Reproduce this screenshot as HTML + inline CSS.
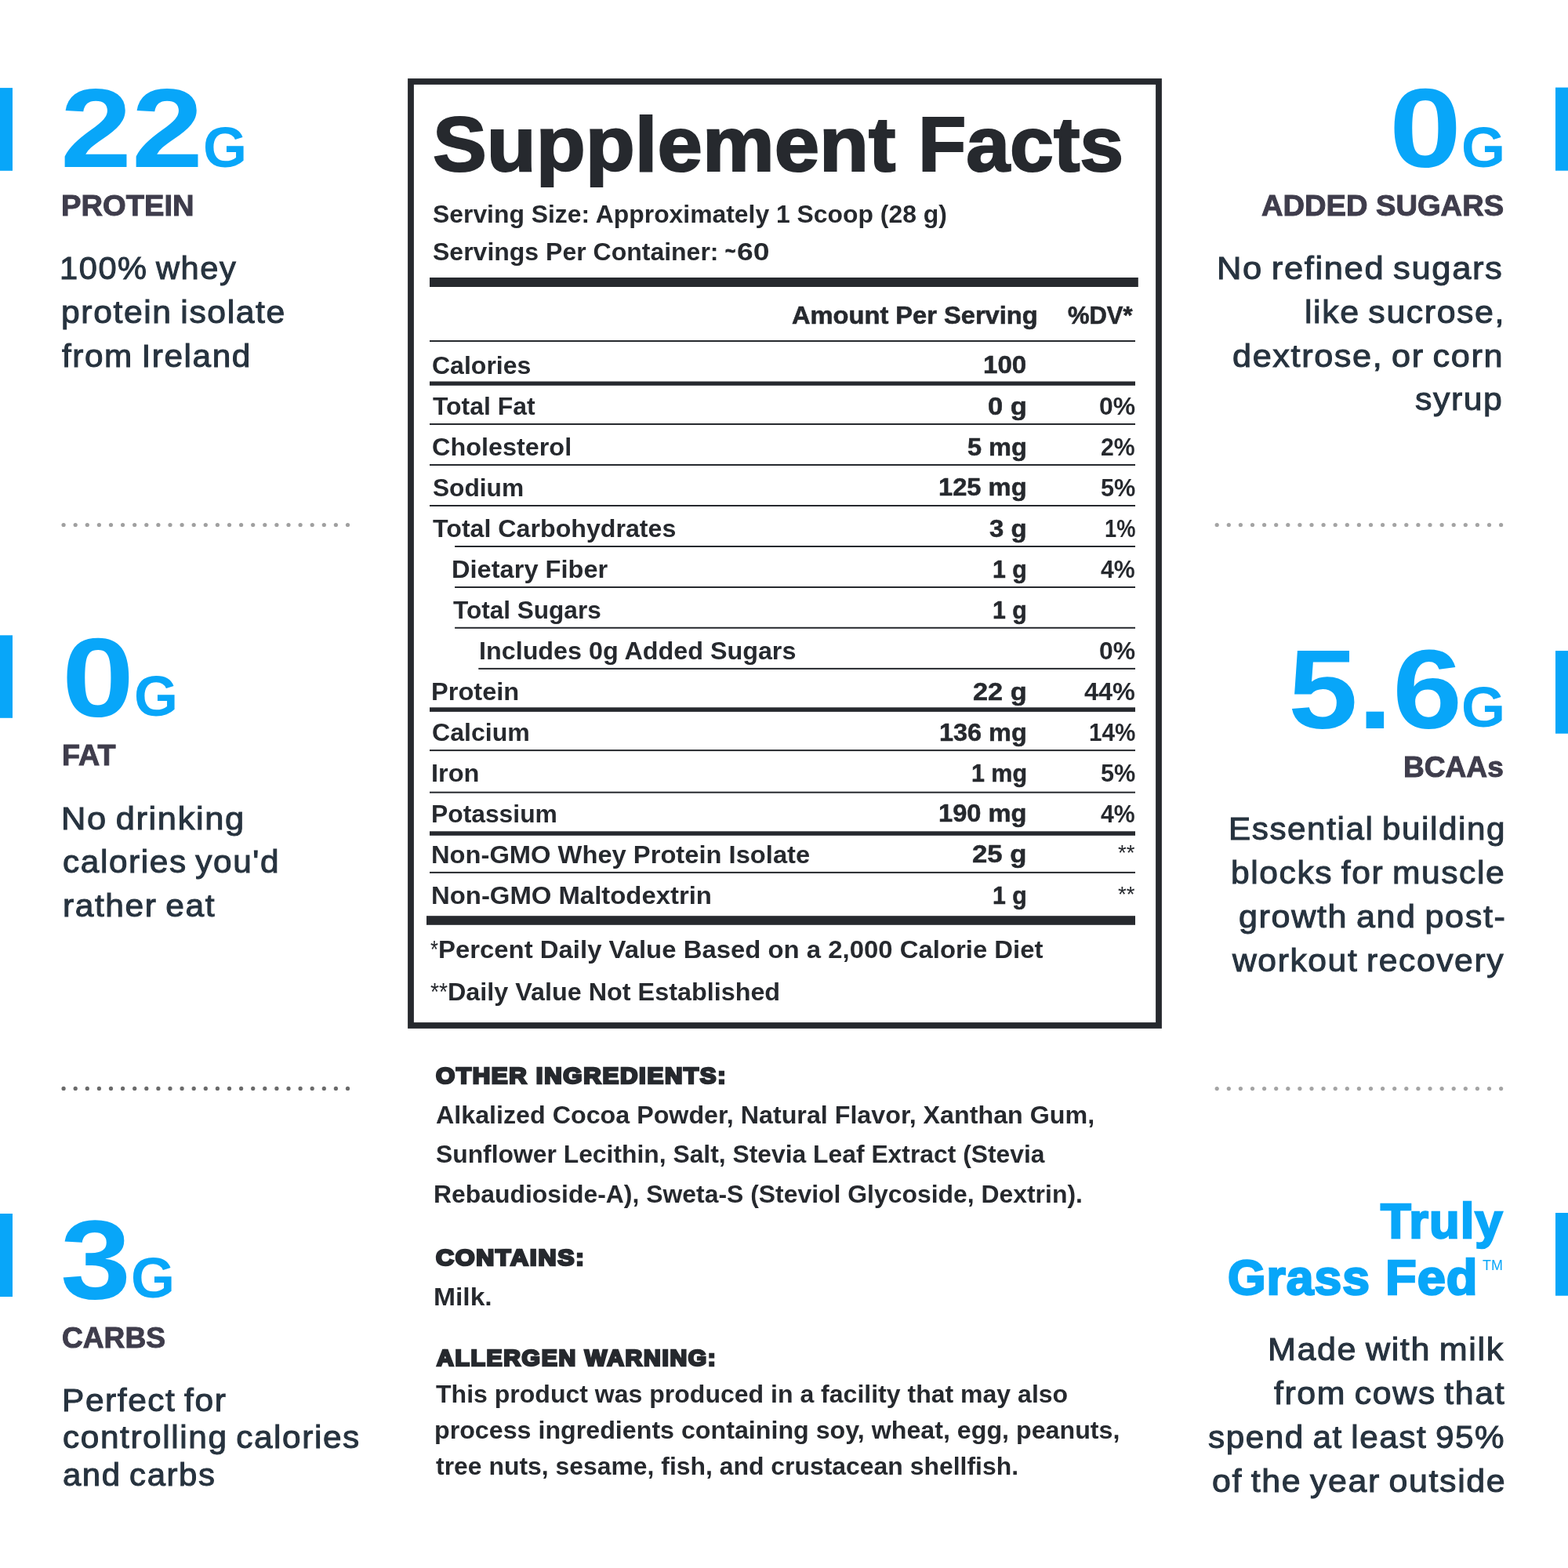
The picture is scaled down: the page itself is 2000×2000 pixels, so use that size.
<!DOCTYPE html>
<html><head><meta charset="utf-8"><title>Supplement Facts</title>
<style>
html,body{margin:0;padding:0;background:#fff;}
body{width:2000px;height:2000px;position:relative;overflow:hidden;font-family:"Liberation Sans", sans-serif;}
.w{position:absolute;left:0;top:0;width:2000px;height:2000px;will-change:transform;}
.t{position:absolute;white-space:nowrap;line-height:1;transform-origin:0 0;}
.r{position:absolute;background:#26292e;}
.b{position:absolute;background:#08a6f9;width:16px;}
</style></head><body>
<div class="w">
<svg style="position:absolute;left:0;top:0" width="2000" height="2000" viewBox="0 0 2000 2000">
<g fill="#08a6f9">
<rect x="0" y="112.1" width="16" height="105.7"/>
<rect x="0" y="810.3" width="16" height="105.5"/>
<rect x="0" y="1548" width="16" height="106"/>
<rect x="1984" y="111.6" width="16" height="106.1"/>
<rect x="1984" y="830.1" width="16" height="105.6"/>
<rect x="1984" y="1547" width="16" height="105.7"/>
</g>
<rect x="524" y="104" width="954" height="1204" fill="none" stroke="#26292e" stroke-width="7.8"/>
<g fill="#26292e">
<rect x="548" y="354" width="903.8" height="12"/>
<rect x="548" y="434" width="900" height="2"/>
<rect x="548" y="540" width="900" height="2"/>
<rect x="548" y="592" width="900" height="2"/>
<rect x="548" y="644" width="900" height="2"/>
<rect x="548" y="956.1" width="900" height="2"/>
<rect x="548" y="1009.7" width="900" height="2"/>
<rect x="548" y="1111.9" width="900" height="2"/>
<rect x="580.1" y="696" width="867.9" height="2"/>
<rect x="580.1" y="748" width="867.9" height="2"/>
<rect x="580.1" y="799.8" width="867.9" height="2"/>
<rect x="610.3" y="851.9" width="837.7" height="2"/>
<rect x="548" y="486.5" width="900" height="5.3"/>
<rect x="548" y="902.3" width="900" height="5.6"/>
<rect x="548" y="1060.3" width="900" height="5.5"/>
<rect x="544" y="1168.2" width="904" height="11.6"/>
</g>
<g fill="#a0a0a0"><circle cx="81.1" cy="669.5" r="2.6"/><circle cx="96.2" cy="669.5" r="2.6"/><circle cx="111.3" cy="669.5" r="2.6"/><circle cx="126.4" cy="669.5" r="2.6"/><circle cx="141.5" cy="669.5" r="2.6"/><circle cx="156.6" cy="669.5" r="2.6"/><circle cx="171.7" cy="669.5" r="2.6"/><circle cx="186.8" cy="669.5" r="2.6"/><circle cx="201.9" cy="669.5" r="2.6"/><circle cx="217" cy="669.5" r="2.6"/><circle cx="232.1" cy="669.5" r="2.6"/><circle cx="247.2" cy="669.5" r="2.6"/><circle cx="262.3" cy="669.5" r="2.6"/><circle cx="277.4" cy="669.5" r="2.6"/><circle cx="292.5" cy="669.5" r="2.6"/><circle cx="307.6" cy="669.5" r="2.6"/><circle cx="322.7" cy="669.5" r="2.6"/><circle cx="337.8" cy="669.5" r="2.6"/><circle cx="352.9" cy="669.5" r="2.6"/><circle cx="368" cy="669.5" r="2.6"/><circle cx="383.1" cy="669.5" r="2.6"/><circle cx="398.2" cy="669.5" r="2.6"/><circle cx="413.3" cy="669.5" r="2.6"/><circle cx="428.4" cy="669.5" r="2.6"/><circle cx="443.5" cy="669.5" r="2.6"/></g>
<g fill="#6a6a6a"><circle cx="81.1" cy="1388.4" r="2.6"/><circle cx="96.2" cy="1388.4" r="2.6"/><circle cx="111.3" cy="1388.4" r="2.6"/><circle cx="126.4" cy="1388.4" r="2.6"/><circle cx="141.5" cy="1388.4" r="2.6"/><circle cx="156.6" cy="1388.4" r="2.6"/><circle cx="171.7" cy="1388.4" r="2.6"/><circle cx="186.8" cy="1388.4" r="2.6"/><circle cx="201.9" cy="1388.4" r="2.6"/><circle cx="217" cy="1388.4" r="2.6"/><circle cx="232.1" cy="1388.4" r="2.6"/><circle cx="247.2" cy="1388.4" r="2.6"/><circle cx="262.3" cy="1388.4" r="2.6"/><circle cx="277.4" cy="1388.4" r="2.6"/><circle cx="292.5" cy="1388.4" r="2.6"/><circle cx="307.6" cy="1388.4" r="2.6"/><circle cx="322.7" cy="1388.4" r="2.6"/><circle cx="337.8" cy="1388.4" r="2.6"/><circle cx="352.9" cy="1388.4" r="2.6"/><circle cx="368" cy="1388.4" r="2.6"/><circle cx="383.1" cy="1388.4" r="2.6"/><circle cx="398.2" cy="1388.4" r="2.6"/><circle cx="413.3" cy="1388.4" r="2.6"/><circle cx="428.4" cy="1388.4" r="2.6"/><circle cx="443.5" cy="1388.4" r="2.6"/></g>
<g fill="#a4a4a4"><circle cx="1552.2" cy="669.5" r="2.6"/><circle cx="1567.3" cy="669.5" r="2.6"/><circle cx="1582.4" cy="669.5" r="2.6"/><circle cx="1597.5" cy="669.5" r="2.6"/><circle cx="1612.6" cy="669.5" r="2.6"/><circle cx="1627.7" cy="669.5" r="2.6"/><circle cx="1642.8" cy="669.5" r="2.6"/><circle cx="1657.9" cy="669.5" r="2.6"/><circle cx="1673" cy="669.5" r="2.6"/><circle cx="1688.1" cy="669.5" r="2.6"/><circle cx="1703.2" cy="669.5" r="2.6"/><circle cx="1718.3" cy="669.5" r="2.6"/><circle cx="1733.4" cy="669.5" r="2.6"/><circle cx="1748.5" cy="669.5" r="2.6"/><circle cx="1763.6" cy="669.5" r="2.6"/><circle cx="1778.7" cy="669.5" r="2.6"/><circle cx="1793.8" cy="669.5" r="2.6"/><circle cx="1808.9" cy="669.5" r="2.6"/><circle cx="1824" cy="669.5" r="2.6"/><circle cx="1839.1" cy="669.5" r="2.6"/><circle cx="1854.2" cy="669.5" r="2.6"/><circle cx="1869.3" cy="669.5" r="2.6"/><circle cx="1884.4" cy="669.5" r="2.6"/><circle cx="1899.5" cy="669.5" r="2.6"/><circle cx="1914.6" cy="669.5" r="2.6"/></g>
<g fill="#a4a4a4"><circle cx="1552.2" cy="1388.6" r="2.6"/><circle cx="1567.3" cy="1388.6" r="2.6"/><circle cx="1582.4" cy="1388.6" r="2.6"/><circle cx="1597.5" cy="1388.6" r="2.6"/><circle cx="1612.6" cy="1388.6" r="2.6"/><circle cx="1627.7" cy="1388.6" r="2.6"/><circle cx="1642.8" cy="1388.6" r="2.6"/><circle cx="1657.9" cy="1388.6" r="2.6"/><circle cx="1673" cy="1388.6" r="2.6"/><circle cx="1688.1" cy="1388.6" r="2.6"/><circle cx="1703.2" cy="1388.6" r="2.6"/><circle cx="1718.3" cy="1388.6" r="2.6"/><circle cx="1733.4" cy="1388.6" r="2.6"/><circle cx="1748.5" cy="1388.6" r="2.6"/><circle cx="1763.6" cy="1388.6" r="2.6"/><circle cx="1778.7" cy="1388.6" r="2.6"/><circle cx="1793.8" cy="1388.6" r="2.6"/><circle cx="1808.9" cy="1388.6" r="2.6"/><circle cx="1824" cy="1388.6" r="2.6"/><circle cx="1839.1" cy="1388.6" r="2.6"/><circle cx="1854.2" cy="1388.6" r="2.6"/><circle cx="1869.3" cy="1388.6" r="2.6"/><circle cx="1884.4" cy="1388.6" r="2.6"/><circle cx="1899.5" cy="1388.6" r="2.6"/><circle cx="1914.6" cy="1388.6" r="2.6"/></g>
<g fill="#08a6f9" font-family="Liberation Sans, sans-serif" font-weight="bold">
<text x="77" y="212.8" font-size="142" textLength="182" lengthAdjust="spacingAndGlyphs">22</text>
<text x="259" y="212.8" font-size="72">G</text>
<text x="79" y="914" font-size="142" textLength="92" lengthAdjust="spacingAndGlyphs">0</text>
<text x="171" y="912.6" font-size="72">G</text>
<text x="77" y="1656" font-size="142" textLength="90" lengthAdjust="spacingAndGlyphs">3</text>
<text x="167" y="1655.4" font-size="72">G</text>
<text x="1772" y="213" font-size="142" textLength="92" lengthAdjust="spacingAndGlyphs">0</text>
<text x="1864" y="212.6" font-size="72">G</text>
<text x="1643" y="929" font-size="142" textLength="222" lengthAdjust="spacingAndGlyphs">5.6</text>
<text x="1864" y="926.9" font-size="72">G</text>
</g>
</svg>
<div class="t" style="left:78.38px;top:244px;font-size:37.6px;color:#3f3d4c;transform:scaleX(1.0153);font-weight:bold;-webkit-text-stroke:1.0px #3f3d4c;">PROTEIN</div>
<div class="t" style="left:76.40px;top:322px;font-size:40px;color:#27333f;transform:scaleX(1.0397);word-spacing:-2.6px;letter-spacing:1.5px;-webkit-text-stroke:1.0px #27333f;">100% whey</div>
<div class="t" style="left:77.70px;top:378px;font-size:40px;color:#27333f;transform:scaleX(1.0664);word-spacing:-2.6px;letter-spacing:1.5px;-webkit-text-stroke:1.0px #27333f;">protein isolate</div>
<div class="t" style="left:78.93px;top:434px;font-size:40px;color:#27333f;transform:scaleX(1.0572);word-spacing:-2.6px;letter-spacing:1.5px;-webkit-text-stroke:1.0px #27333f;">from Ireland</div>
<div class="t" style="left:78.59px;top:945px;font-size:37.6px;color:#3f3d4c;transform:scaleX(1.0040);font-weight:bold;-webkit-text-stroke:1.0px #3f3d4c;">FAT</div>
<div class="t" style="left:78.48px;top:1024px;font-size:40px;color:#27333f;transform:scaleX(1.0861);word-spacing:-2.6px;letter-spacing:1.5px;-webkit-text-stroke:1.0px #27333f;">No drinking</div>
<div class="t" style="left:80.27px;top:1079px;font-size:40px;color:#27333f;transform:scaleX(1.0590);word-spacing:-2.6px;letter-spacing:1.5px;-webkit-text-stroke:1.0px #27333f;">calories you'd</div>
<div class="t" style="left:79.61px;top:1135px;font-size:40px;color:#27333f;transform:scaleX(1.0624);word-spacing:-2.6px;letter-spacing:1.5px;-webkit-text-stroke:1.0px #27333f;">rather eat</div>
<div class="t" style="left:78.61px;top:1688px;font-size:37.6px;color:#3f3d4c;transform:scaleX(0.9875);font-weight:bold;-webkit-text-stroke:1.0px #3f3d4c;">CARBS</div>
<div class="t" style="left:78.75px;top:1766px;font-size:40px;color:#27333f;transform:scaleX(1.0602);word-spacing:-2.6px;letter-spacing:1.5px;-webkit-text-stroke:1.0px #27333f;">Perfect for</div>
<div class="t" style="left:79.67px;top:1813px;font-size:40px;color:#27333f;transform:scaleX(1.0590);word-spacing:-2.6px;letter-spacing:1.5px;-webkit-text-stroke:1.0px #27333f;">controlling calories</div>
<div class="t" style="left:80.08px;top:1861px;font-size:40px;color:#27333f;transform:scaleX(1.0475);word-spacing:-2.6px;letter-spacing:1.5px;-webkit-text-stroke:1.0px #27333f;">and carbs</div>
<div class="t" style="left:1608.91px;top:244px;font-size:37.6px;color:#3f3d4c;transform:scaleX(1.0139);font-weight:bold;-webkit-text-stroke:1.0px #3f3d4c;">ADDED SUGARS</div>
<div class="t" style="left:1551.68px;top:322px;font-size:40px;color:#27333f;transform:scaleX(1.0877);word-spacing:-2.6px;letter-spacing:1.5px;-webkit-text-stroke:1.0px #27333f;">No refined sugars</div>
<div class="t" style="left:1663.99px;top:378px;font-size:40px;color:#27333f;transform:scaleX(1.0702);word-spacing:-2.6px;letter-spacing:1.5px;-webkit-text-stroke:1.0px #27333f;">like sucrose,</div>
<div class="t" style="left:1572.46px;top:434px;font-size:40px;color:#27333f;transform:scaleX(1.0799);word-spacing:-2.6px;letter-spacing:1.5px;-webkit-text-stroke:1.0px #27333f;">dextrose, or corn</div>
<div class="t" style="left:1805.27px;top:489px;font-size:40px;color:#27333f;transform:scaleX(1.0676);word-spacing:-2.6px;letter-spacing:1.5px;-webkit-text-stroke:1.0px #27333f;">syrup</div>
<div class="t" style="left:1790.42px;top:960px;font-size:37.6px;color:#3f3d4c;transform:scaleX(0.9871);font-weight:bold;-webkit-text-stroke:1.0px #3f3d4c;">BCAAs</div>
<div class="t" style="left:1566.66px;top:1037px;font-size:40px;color:#27333f;transform:scaleX(1.0544);word-spacing:-2.6px;letter-spacing:1.5px;-webkit-text-stroke:1.0px #27333f;">Essential building</div>
<div class="t" style="left:1570.20px;top:1093px;font-size:40px;color:#27333f;transform:scaleX(1.0635);word-spacing:-2.6px;letter-spacing:1.5px;-webkit-text-stroke:1.0px #27333f;">blocks for muscle</div>
<div class="t" style="left:1579.96px;top:1149px;font-size:40px;color:#27333f;transform:scaleX(1.0780);word-spacing:-2.6px;letter-spacing:1.5px;-webkit-text-stroke:1.0px #27333f;">growth and post-</div>
<div class="t" style="left:1572.20px;top:1205px;font-size:40px;color:#27333f;transform:scaleX(1.0648);word-spacing:-2.6px;letter-spacing:1.5px;-webkit-text-stroke:1.0px #27333f;">workout recovery</div>
<div class="t" style="left:1761.46px;top:1526px;font-size:63px;color:#08a6f9;transform:scaleX(1.0063);font-weight:bold;letter-spacing:1px;-webkit-text-stroke:2.5px #08a6f9;">Truly</div>
<div class="t" style="left:1566.16px;top:1598px;font-size:63px;color:#08a6f9;transform:scaleX(0.9912);font-weight:bold;letter-spacing:1px;-webkit-text-stroke:2.5px #08a6f9;">Grass</div>
<div class="t" style="left:1767.36px;top:1598px;font-size:63px;color:#08a6f9;transform:scaleX(1.0310);font-weight:bold;letter-spacing:1px;-webkit-text-stroke:2.5px #08a6f9;">Fed</div>
<div class="t" style="left:1891.30px;top:1605px;font-size:18px;color:#08a6f9;transform:scaleX(0.9922);">TM</div>
<div class="t" style="left:1616.61px;top:1701px;font-size:40px;color:#27333f;transform:scaleX(1.0766);word-spacing:-2.6px;letter-spacing:1.5px;-webkit-text-stroke:1.0px #27333f;">Made with milk</div>
<div class="t" style="left:1624.73px;top:1757px;font-size:40px;color:#27333f;transform:scaleX(1.0699);word-spacing:-2.6px;letter-spacing:1.5px;-webkit-text-stroke:1.0px #27333f;">from cows that</div>
<div class="t" style="left:1541.27px;top:1813px;font-size:40px;color:#27333f;transform:scaleX(1.0547);word-spacing:-2.6px;letter-spacing:1.5px;-webkit-text-stroke:1.0px #27333f;">spend at least 95%</div>
<div class="t" style="left:1545.56px;top:1869px;font-size:40px;color:#27333f;transform:scaleX(1.0727);word-spacing:-2.6px;letter-spacing:1.5px;-webkit-text-stroke:1.0px #27333f;">of the year outside</div>
<div class="t" style="left:551.95px;top:135px;font-size:98px;color:#26292e;transform:scaleX(1.0527);font-weight:bold;-webkit-text-stroke:2.2px #26292e;">Supplement</div>
<div class="t" style="left:1171.28px;top:135px;font-size:98px;color:#26292e;transform:scaleX(1.0241);font-weight:bold;-webkit-text-stroke:2.2px #26292e;">Facts</div>
<div class="t" style="left:551.90px;top:258px;font-size:31.5px;color:#26292e;transform:scaleX(1.0117);font-weight:bold;">Serving Size: Approximately 1 Scoop (28 g)</div>
<div class="t" style="left:551.90px;top:306px;font-size:31.5px;color:#26292e;transform:scaleX(1.0158);font-weight:bold;">Servings Per Container:</div>
<div class="t" style="left:924.57px;top:307px;font-size:26px;color:#26292e;transform:scaleX(0.8667);font-weight:bold;-webkit-text-stroke:1.0px #26292e;">~</div>
<div class="t" style="left:940.02px;top:306px;font-size:31.5px;color:#26292e;transform:scaleX(1.1844);font-weight:bold;">60</div>
<div class="t" style="left:1010.21px;top:387px;font-size:31.5px;color:#26292e;transform:scaleX(1.0359);font-weight:bold;-webkit-text-stroke:0.6px #26292e;">Amount Per Serving</div>
<div class="t" style="left:1361.69px;top:387px;font-size:31.5px;color:#26292e;transform:scaleX(0.9816);font-weight:bold;-webkit-text-stroke:0.6px #26292e;">%DV*</div>
<div class="t" style="left:550.78px;top:451px;font-size:31.5px;color:#26292e;transform:scaleX(1.0164);font-weight:bold;">Calories</div>
<div class="t" style="left:1253.71px;top:450px;font-size:31.5px;color:#26292e;transform:scaleX(1.0517);font-weight:bold;-webkit-text-stroke:0.5px #26292e;">100</div>
<div class="t" style="left:551.80px;top:503px;font-size:31.5px;color:#26292e;transform:scaleX(1.0130);font-weight:bold;">Total Fat</div>
<div class="t" style="left:1259.88px;top:503px;font-size:31.5px;color:#26292e;transform:scaleX(1.0966);font-weight:bold;-webkit-text-stroke:0.5px #26292e;">0 g</div>
<div class="t" style="left:1401.79px;top:503px;font-size:31.5px;color:#26292e;transform:scaleX(1.0131);font-weight:bold;">0%</div>
<div class="t" style="left:550.77px;top:555px;font-size:31.5px;color:#26292e;transform:scaleX(1.0280);font-weight:bold;">Cholesterol</div>
<div class="t" style="left:1233.86px;top:555px;font-size:31.5px;color:#26292e;transform:scaleX(1.0319);font-weight:bold;-webkit-text-stroke:0.5px #26292e;">5 mg</div>
<div class="t" style="left:1404.24px;top:555px;font-size:31.5px;color:#26292e;transform:scaleX(0.9591);font-weight:bold;">2%</div>
<div class="t" style="left:551.60px;top:607px;font-size:31.5px;color:#26292e;transform:scaleX(1.0054);font-weight:bold;">Sodium</div>
<div class="t" style="left:1197.12px;top:606px;font-size:31.5px;color:#26292e;transform:scaleX(1.0373);font-weight:bold;-webkit-text-stroke:0.5px #26292e;">125 mg</div>
<div class="t" style="left:1403.60px;top:607px;font-size:31.5px;color:#26292e;transform:scaleX(0.9732);font-weight:bold;">5%</div>
<div class="t" style="left:551.60px;top:659px;font-size:31.5px;color:#26292e;transform:scaleX(1.0209);font-weight:bold;">Total Carbohydrates</div>
<div class="t" style="left:1262.16px;top:659px;font-size:31.5px;color:#26292e;transform:scaleX(1.0453);font-weight:bold;-webkit-text-stroke:0.5px #26292e;">3 g</div>
<div class="t" style="left:1408.54px;top:659px;font-size:31.5px;color:#26292e;transform:scaleX(0.8648);font-weight:bold;">1%</div>
<div class="t" style="left:576.13px;top:711px;font-size:31.5px;color:#26292e;transform:scaleX(1.0346);font-weight:bold;">Dietary Fiber</div>
<div class="t" style="left:1265.88px;top:711px;font-size:31.5px;color:#26292e;transform:scaleX(0.9618);font-weight:bold;-webkit-text-stroke:0.5px #26292e;">1 g</div>
<div class="t" style="left:1404.20px;top:711px;font-size:31.5px;color:#26292e;transform:scaleX(0.9600);font-weight:bold;">4%</div>
<div class="t" style="left:578.20px;top:763px;font-size:31.5px;color:#26292e;transform:scaleX(1.0015);font-weight:bold;">Total Sugars</div>
<div class="t" style="left:1265.88px;top:763px;font-size:31.5px;color:#26292e;transform:scaleX(0.9618);font-weight:bold;-webkit-text-stroke:0.5px #26292e;">1 g</div>
<div class="t" style="left:610.95px;top:815px;font-size:31.5px;color:#26292e;transform:scaleX(1.0253);font-weight:bold;">Includes 0g Added Sugars</div>
<div class="t" style="left:1401.79px;top:815px;font-size:31.5px;color:#26292e;transform:scaleX(1.0131);font-weight:bold;">0%</div>
<div class="t" style="left:549.73px;top:867px;font-size:31.5px;color:#26292e;transform:scaleX(1.0345);font-weight:bold;">Protein</div>
<div class="t" style="left:1241.18px;top:867px;font-size:31.5px;color:#26292e;transform:scaleX(1.0883);font-weight:bold;-webkit-text-stroke:0.5px #26292e;">22 g</div>
<div class="t" style="left:1383.00px;top:867px;font-size:31.5px;color:#26292e;transform:scaleX(1.0295);font-weight:bold;">44%</div>
<div class="t" style="left:550.78px;top:919px;font-size:31.5px;color:#26292e;transform:scaleX(1.0180);font-weight:bold;">Calcium</div>
<div class="t" style="left:1198.03px;top:919px;font-size:31.5px;color:#26292e;transform:scaleX(1.0289);font-weight:bold;-webkit-text-stroke:0.5px #26292e;">136 mg</div>
<div class="t" style="left:1388.56px;top:919px;font-size:31.5px;color:#26292e;transform:scaleX(0.9414);font-weight:bold;">14%</div>
<div class="t" style="left:549.73px;top:971px;font-size:31.5px;color:#26292e;transform:scaleX(1.0329);font-weight:bold;">Iron</div>
<div class="t" style="left:1238.68px;top:971px;font-size:31.5px;color:#26292e;transform:scaleX(0.9655);font-weight:bold;-webkit-text-stroke:0.5px #26292e;">1 mg</div>
<div class="t" style="left:1403.60px;top:971px;font-size:31.5px;color:#26292e;transform:scaleX(0.9732);font-weight:bold;">5%</div>
<div class="t" style="left:549.78px;top:1023px;font-size:31.5px;color:#26292e;transform:scaleX(1.0097);font-weight:bold;">Potassium</div>
<div class="t" style="left:1197.22px;top:1022px;font-size:31.5px;color:#26292e;transform:scaleX(1.0364);font-weight:bold;-webkit-text-stroke:0.5px #26292e;">190 mg</div>
<div class="t" style="left:1404.20px;top:1023px;font-size:31.5px;color:#26292e;transform:scaleX(0.9600);font-weight:bold;">4%</div>
<div class="t" style="left:549.72px;top:1075px;font-size:31.5px;color:#26292e;transform:scaleX(1.0378);font-weight:bold;">Non-GMO Whey Protein Isolate</div>
<div class="t" style="left:1240.37px;top:1074px;font-size:31.5px;color:#26292e;transform:scaleX(1.1013);font-weight:bold;-webkit-text-stroke:0.5px #26292e;">25 g</div>
<div class="t" style="left:1426.10px;top:1074px;font-size:27.3px;color:#26292e;transform:scaleX(1.0082);">**</div>
<div class="t" style="left:549.71px;top:1127px;font-size:31.5px;color:#26292e;transform:scaleX(1.0435);font-weight:bold;">Non-GMO Maltodextrin</div>
<div class="t" style="left:1265.88px;top:1127px;font-size:31.5px;color:#26292e;transform:scaleX(0.9618);font-weight:bold;-webkit-text-stroke:0.5px #26292e;">1 g</div>
<div class="t" style="left:1426.10px;top:1127px;font-size:27.3px;color:#26292e;transform:scaleX(1.0082);">**</div>
<div class="t" style="left:548.90px;top:1196px;font-size:31.5px;color:#26292e;transform:scaleX(0.8083);">*</div>
<div class="t" style="left:559.31px;top:1196px;font-size:31.5px;color:#26292e;transform:scaleX(1.0442);font-weight:bold;">Percent Daily Value Based on a 2,000 Calorie Diet</div>
<div class="t" style="left:548.90px;top:1250px;font-size:31.5px;color:#26292e;transform:scaleX(0.8987);">**</div>
<div class="t" style="left:571.45px;top:1250px;font-size:31.5px;color:#26292e;transform:scaleX(1.0266);font-weight:bold;">Daily Value Not Established</div>
<div class="t" style="left:555.82px;top:1358px;font-size:28.8px;color:#26292e;transform:scaleX(1.0797);font-weight:bold;letter-spacing:1.6px;-webkit-text-stroke:2.6px #26292e;">OTHER INGREDIENTS:</div>
<div class="t" style="left:555.50px;top:1407px;font-size:31.5px;color:#26292e;transform:scaleX(1.0233);font-weight:bold;">Alkalized Cocoa Powder, Natural Flavor, Xanthan Gum,</div>
<div class="t" style="left:555.50px;top:1457px;font-size:31.5px;color:#26292e;transform:scaleX(1.0105);font-weight:bold;">Sunflower Lecithin, Salt, Stevia Leaf Extract (Stevia</div>
<div class="t" style="left:553.47px;top:1508px;font-size:31.5px;color:#26292e;transform:scaleX(1.0128);font-weight:bold;">Rebaudioside-A), Sweta-S (Steviol Glycoside, Dextrin).</div>
<div class="t" style="left:555.93px;top:1590px;font-size:28.8px;color:#26292e;transform:scaleX(1.1064);font-weight:bold;letter-spacing:1.6px;-webkit-text-stroke:2.6px #26292e;">CONTAINS:</div>
<div class="t" style="left:553.47px;top:1639px;font-size:31.5px;color:#26292e;transform:scaleX(1.0670);font-weight:bold;">Milk.</div>
<div class="t" style="left:556.96px;top:1718px;font-size:28.8px;color:#26292e;transform:scaleX(1.0444);font-weight:bold;letter-spacing:1.6px;-webkit-text-stroke:2.6px #26292e;">ALLERGEN WARNING:</div>
<div class="t" style="left:555.60px;top:1763px;font-size:31.5px;color:#26292e;transform:scaleX(1.0167);font-weight:bold;">This product was produced in a facility that may also</div>
<div class="t" style="left:553.56px;top:1809px;font-size:31.5px;color:#26292e;transform:scaleX(1.0223);font-weight:bold;">process ingredients containing soy, wheat, egg, peanuts,</div>
<div class="t" style="left:555.60px;top:1855px;font-size:31.5px;color:#26292e;transform:scaleX(1.0129);font-weight:bold;">tree nuts, sesame, fish, and crustacean shellfish.</div>
</div>
</body></html>
